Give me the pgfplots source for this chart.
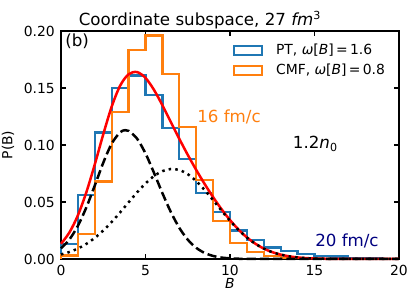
\documentclass[border=0pt]{standalone}
\usepackage{pgfplots}
\pgfplotsset{compat=1.18}
\usepackage{fontspec}
\setmainfont{DejaVu Sans}
\definecolor{c1}{HTML}{1F77B4}
\definecolor{c2}{HTML}{FF7F0E}
\definecolor{navyc}{HTML}{000080}
\begin{document}
\begin{tikzpicture}
\begin{axis}[
  name=ax, at={(0pt,0pt)}, anchor=south west,
  scale only axis, width=243.36pt, height=164.16pt,
  xmin=0, xmax=20, ymin=0, ymax=0.2,
  xtick={0,5,10,15,20}, ytick={0,0.05,0.1,0.15,0.2},
  minor tick num=0,
  tick align=inside, tick pos=both,
  major tick length=3.5pt,
  every tick/.style={black, line width=0.8pt},
  axis line style={black, line width=0.8pt},
  /pgf/number format/assume math mode=true,
  scaled y ticks=false,
  yticklabel style={/pgf/number format/.cd, fixed, fixed zerofill, precision=2, /tikz/.cd, font=\fontsize{10}{12}\selectfont, inner sep=0pt, anchor=east, xshift=-4.3pt},
  xticklabel style={font=\fontsize{10}{12}\selectfont, inner sep=0pt, anchor=north, yshift=-4.3pt},
  clip=false,
  legend cell align=left,
  legend style={draw=none, fill=none, at={(rel axis cs:0.509,0.943)}, anchor=north west,
    inner sep=0pt, outer sep=0pt, row sep=5.5pt, font=\fontsize{10}{12}\selectfont,
    nodes={inner sep=0pt},
    /tikz/every odd column/.append style={column sep=9.3pt}},
]
\addplot[const plot, c1, line width=1.6pt,
  legend image code/.code={\draw[c1, line width=1.6pt] (0pt,-3.2pt) rectangle (20.1pt,3.2pt);}]
  coordinates {(0,0) (0,0.013) (1,0.056) (2,0.111) (3,0.150) (4,0.161) (5,0.144) (6,0.115)
  (7,0.088) (8,0.058) (9,0.041) (10,0.025) (11,0.017) (12,0.010) (13,0.007) (14,0.0044)
  (15,0.0026) (16,0.0022) (17,0.0008) (18,0.0004) (19,0)};
\addlegendentry{PT, \textit{ω}[\textit{B}]\,=\,1.6}
\addplot[const plot, c2, line width=1.6pt,
  legend image code/.code={\draw[c2, line width=1.6pt] (0pt,-3.2pt) rectangle (20.1pt,3.2pt);}]
  coordinates {(0,0) (0,0.003) (1,0.022) (2,0.068) (3,0.129) (4,0.183) (5,0.196) (6,0.162)
  (7,0.116) (8,0.069) (9,0.033) (10,0.014) (11,0.0064) (12,0.0026) (13,0.001) (14,0)};
\addlegendentry{CMF, \textit{ω}[\textit{B}]\,=\,0.8}
\addplot[red, line width=1.8pt, smooth, forget plot] coordinates {
  (0,0.01327) (0.5,0.02333) (1,0.0383) (1.5,0.05853) (2,0.08301) (2.5,0.10934) (3,0.13368)
  (3.5,0.15207) (4,0.16209) (4.5,0.16398) (5,0.15888) (5.5,0.14841) (6,0.13487) (6.5,0.12015)
  (7,0.10543) (7.5,0.09137) (8,0.07816) (8.5,0.06579) (9,0.05427) (9.5,0.04366) (10,0.03415)
  (10.5,0.02588) (11,0.01896) (11.5,0.01344) (12,0.00914) (12.5,0.00602) (13,0.00382)
  (13.5,0.00234) (14,0.00138) (14.5,0.00078) (15,0.00043) (16,0.00012) (17,0.00003) (18,0) (20,0)};
\addplot[black, line width=1.8pt, dash pattern=on 6.6pt off 2.9pt, smooth, forget plot] coordinates {
  (0,0.00929) (0.5,0.01718) (1,0.0291) (1.5,0.04526) (2,0.0645) (2.5,0.0844) (3,0.1012)
  (3.5,0.1112) (3.8,0.113) (4,0.1124) (4.5,0.1056) (5,0.0926) (5.5,0.0757) (6,0.0578) (6.5,0.0412)
  (7,0.02736) (7.5,0.01696) (8,0.00982) (8.5,0.0053) (9,0.00267) (9.5,0.00125) (10,0.00055)
  (10.5,0.000226) (11,0.000086) (12,0.00001) (14,0) (20,0)};
\addplot[black, line width=1.8pt, dash pattern=on 1.8pt off 3pt, smooth, forget plot] coordinates {
  (0,0.00398) (0.5,0.00615) (1,0.0092) (1.5,0.01327) (2,0.01851) (2.5,0.02494) (3,0.03248)
  (3.5,0.04087) (4,0.04969) (4.5,0.05838) (5,0.06628) (5.5,0.07271) (6,0.07707) (6.5,0.07895)
  (7,0.07807) (7.5,0.07441) (8,0.06834) (8.5,0.06049) (9,0.0516) (9.5,0.04241) (10,0.0336)
  (10.5,0.02565) (11,0.01887) (11.5,0.01338) (12,0.00914) (12.5,0.00602) (13,0.00382)
  (13.5,0.00234) (14,0.00138) (14.5,0.00078) (15,0.00043) (15.5,0.000225) (16,0.000115)
  (17,0.00003) (18,0) (20,0)};
\node[anchor=base west, inner sep=0pt, font=\fontsize{12}{14}\selectfont] at (axis cs:0.237,0.186) {(b)};
\node[anchor=base west, inner sep=0pt, font=\fontsize{12}{14}\selectfont, text=c2] at (axis cs:8.05,0.1196) {16 fm/c};
\node[anchor=base west, inner sep=0pt, font=\fontsize{12}{14}\selectfont] at (axis cs:13.71,0.0965) {1.2\textit{n}\textsubscript{0}};
\node[anchor=base west, inner sep=0pt, font=\fontsize{12}{14}\selectfont, text=navyc] at (axis cs:15.03,0.0108) {20 fm/c};
\end{axis}
\node[anchor=base, inner sep=0pt, font=\fontsize{12}{14}\selectfont] at (100.1pt,167.8pt) {Coordinate subspace, 27 \textit{fm}\textsuperscript{3}};
\node[rotate=90, inner sep=0pt, font=\fontsize{10}{12}\selectfont] at (-38.2pt,82.1pt) {P(B)};
\node[inner sep=0pt, font=\fontsize{10}{12}\selectfont] at (121.68pt,-17.3pt) {\textit{B}};
\pgfresetboundingbox
\path[use as bounding box] (-43.92pt,-33.12pt) rectangle (249.12pt,186.48pt);
\end{tikzpicture}
\end{document}
